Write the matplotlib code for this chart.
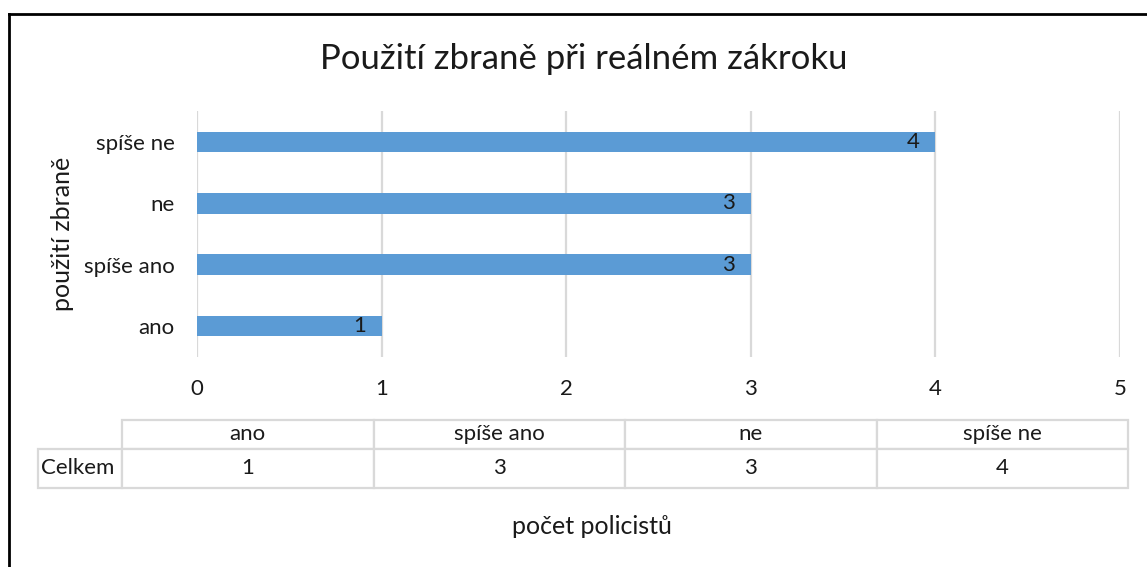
import matplotlib
matplotlib.use("Agg")
import matplotlib.pyplot as plt
from matplotlib.lines import Line2D
from matplotlib.table import Table

plt.rcParams['font.family'] = ['Lato', 'DejaVu Sans']

categories = ["ano", "spíše ano", "ne", "spíše ne"]
values = [1, 3, 3, 4]
x_ticks = [0, 1, 2, 3, 4, 5]
title = "Použití zbraně při reálném zákroku"
x_label = "počet policistů"
y_label = "použití zbraně"
row_label = "Celkem"

W, H = 1147, 567
DPI = 100
fig = plt.figure(figsize=(W / DPI, H / DPI), dpi=DPI)

def fx(px):
    return px / W

def fy(py):
    return 1 - py / H

TXT = "#1a1a1a"
GRID = "#d9d9d9"
BAR = "#5B9BD5"
FS = 16

left, right, top, bottom = 197, 1120, 111.3, 356.7
ax = fig.add_axes([fx(left), fy(bottom), fx(right - left), (bottom - top) / H])
ypos = list(range(len(categories)))
bars = ax.barh(ypos, values, height=0.34, color=BAR, zorder=3)
ax.set_xlim(0, 5)
ax.set_ylim(-0.5, len(categories) - 0.5)
ax.set_xticks(x_ticks)
ax.set_xticklabels([str(t) for t in x_ticks])
ax.set_yticks(ypos)
ax.set_yticklabels(categories)
ax.tick_params(axis='both', length=0, labelsize=FS, colors=TXT)
ax.tick_params(axis='x', pad=16)
ax.tick_params(axis='y', pad=16)
ax.grid(axis='x', color=GRID, linewidth=1.6, zorder=0)
for s in ax.spines.values():
    s.set_visible(False)

for b, v in zip(bars, values):
    ax.annotate(str(v), xy=(b.get_width(), b.get_y() + b.get_height() / 2),
                xytext=(-11.5, 0), textcoords='offset points',
                ha='right', va='center', fontsize=FS, color=TXT, zorder=4)

fig.text(fx(584), fy(59), title, ha='center', va='center', fontsize=25, color=TXT)
fig.text(fx(63), fy(234), y_label, ha='center', va='center', rotation=90,
         fontsize=18, color=TXT)
fig.text(fx(592), fy(527), x_label, ha='center', va='center', fontsize=18, color=TXT)

# data table
t_left, t_right, t_top, t_bot = 38, 1128, 420, 488
tax = fig.add_axes([fx(t_left), fy(t_bot), fx(t_right - t_left), (t_bot - t_top) / H])
tax.axis('off')
tbl = Table(tax, bbox=[0, 0, 1, 1])
lab_w = 84
col_w = (t_right - t_left - lab_w) / len(categories)
h1, h2 = 29, 39
c = tbl.add_cell(0, 0, lab_w, h1, text="", loc='left')
c.visible_edges = ''
for j, cat in enumerate(categories):
    tbl.add_cell(0, j + 1, col_w, h1, text=cat, loc='center')
c = tbl.add_cell(1, 0, lab_w, h2, text=row_label, loc='left')
c.PAD = 0.03
for j, v in enumerate(values):
    tbl.add_cell(1, j + 1, col_w, h2, text=str(v), loc='center')
tbl.auto_set_font_size(False)
tbl.set_fontsize(FS)
for key, cell in tbl.get_celld().items():
    cell.set_edgecolor(GRID)
    cell.set_linewidth(1.6)
    cell.get_text().set_color(TXT)
tax.add_table(tbl)

# outer frame (top and left visible)
fig.add_artist(Line2D([fx(9), fx(W + 5)], [fy(13.8), fy(13.8)], color='black', linewidth=2.0,
                      transform=fig.transFigure))
fig.add_artist(Line2D([fx(8.8), fx(8.8)], [fy(13.8), fy(H + 5)], color='black', linewidth=2.0,
                      transform=fig.transFigure))

fig.savefig("out.png", dpi=DPI, facecolor='white')
